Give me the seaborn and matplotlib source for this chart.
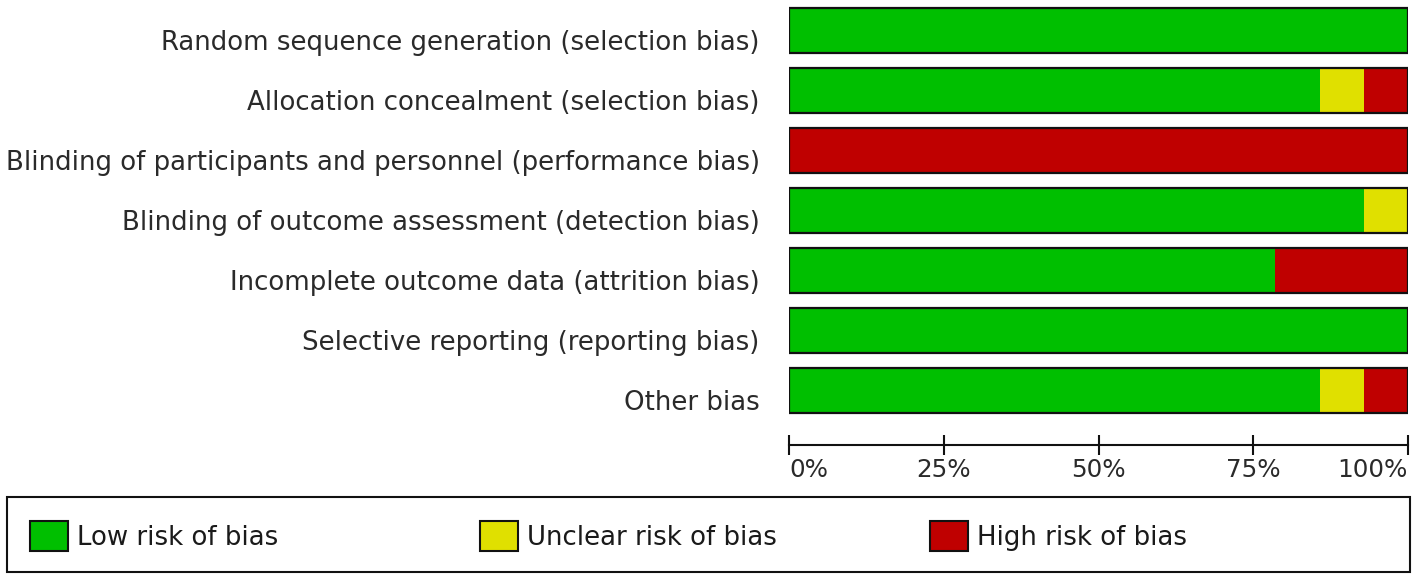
import numpy as np
import pandas as pd
import matplotlib
matplotlib.use('Agg')
import matplotlib.pyplot as plt
import matplotlib.transforms as mtransforms
import seaborn as sns
from matplotlib.patches import Patch, Rectangle

domains = ['Random sequence generation (selection bias)',
           'Allocation concealment (selection bias)',
           'Blinding of participants and personnel (performance bias)',
           'Blinding of outcome assessment (detection bias)',
           'Incomplete outcome data (attrition bias)',
           'Selective reporting (reporting bias)',
           'Other bias']
# number of studies per judgement (14 studies)
low = [14, 12, 0, 13, 11, 14, 12]
unclear = [0, 1, 0, 1, 0, 0, 1]
high = [0, 1, 14, 0, 3, 0, 1]
tick_labels = ['0%', '25%', '50%', '75%', '100%']
legend_labels = ['Low risk of bias', 'Unclear risk of bias', 'High risk of bias']

green = '#00bf00'
yellow = '#e0e000'
red = '#bf0000'
txt = '#2a2a2a'
edge = '#111111'
fs = 18.7

n = np.array(low) + np.array(unclear) + np.array(high)
df = pd.DataFrame({'domain': domains,
                   'low': np.array(low) / n * 100,
                   'unclear': np.array(unclear) / n * 100,
                   'high': np.array(high) / n * 100})
df['c2'] = df['low'] + df['unclear']
df['c3'] = df['c2'] + df['high']

sns.set_style('white')
plt.rcParams['font.family'] = ['DejaVu Sans']

fig = plt.figure(figsize=(14.18, 5.8), dpi=100)
W, H = 1418, 580
ax = fig.add_axes([789 / W, 1 - 445 / H, (1408 - 789) / W, 445 / H])

# stacked bars drawn as cumulative layers
sns.barplot(data=df, x='c3', y='domain', orient='h', color=red, width=0.75,
            linewidth=0, saturation=1, ax=ax)
sns.barplot(data=df, x='c2', y='domain', orient='h', color=yellow, width=0.75,
            linewidth=0, saturation=1, ax=ax)
sns.barplot(data=df, x='low', y='domain', orient='h', color=green, width=0.75,
            linewidth=0, saturation=1, ax=ax)
sns.barplot(data=df, x='c3', y='domain', orient='h', fill=False, width=0.75,
            edgecolor=edge, linewidth=1.6, ax=ax)

ax.set_xlim(0, 100)
ax.set_ylim(445 / 60 - 0.5, -0.5)
ax.set_xlabel('')
ax.set_ylabel('')
for s in ['top', 'right', 'left']:
    ax.spines[s].set_visible(False)
ax.spines['bottom'].set_color(edge)
ax.spines['bottom'].set_linewidth(1.5)

ax.set_xticks([0, 25, 50, 75, 100])
ax.set_xticklabels(tick_labels, fontsize=fs - 1, color=txt)
ax.tick_params(axis='x', bottom=True, direction='inout', length=15, width=1.5,
               color=edge, pad=2)
labs = ax.get_xticklabels()
labs[0].set_ha('left')
labs[-1].set_ha('right')
ax.tick_params(axis='y', left=False, length=0, pad=21, labelsize=fs, labelcolor=txt)
# row labels sit a little below the bar centres in the original
shift = mtransforms.ScaledTranslation(0, -7 / 72, fig.dpi_scale_trans)
for t in ax.get_yticklabels():
    t.set_transform(t.get_transform() + shift)

# legend box with three evenly spaced entries
fig.patches.append(Rectangle((7 / W, 1 - 572 / H), (1410 - 7) / W, 75 / H,
                             transform=fig.transFigure, facecolor='white',
                             edgecolor=edge, linewidth=1.5, zorder=0))
colors = [green, yellow, red]
xs = [30, 480, 930]
for lab, c, x in zip(legend_labels, colors, xs):
    h = Patch(facecolor=c, edgecolor=edge, linewidth=1.5, label=lab)
    leg = fig.legend(handles=[h], loc='center left',
                     bbox_to_anchor=(x / W, 1 - 536 / H), fontsize=fs,
                     frameon=False, handlelength=1.45, handleheight=1.45,
                     handletextpad=0.35, borderaxespad=0, borderpad=0)
    for t in leg.get_texts():
        t.set_color('#1a1a1a')

fig.savefig('out.png', dpi=100)
